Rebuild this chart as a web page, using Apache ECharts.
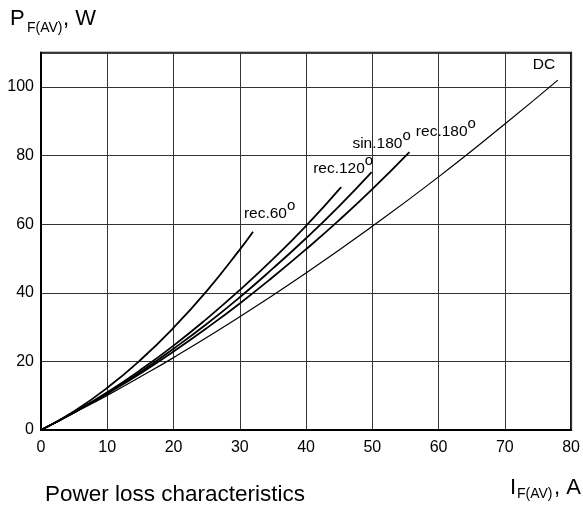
<!DOCTYPE html>
<html>
<head>
<meta charset="utf-8">
<script src="https://cdn.jsdelivr.net/npm/echarts@6/dist/echarts.min.js"></script>
<style>
html, body { margin: 0; padding: 0; background: #fff; }
#chart { width: 583px; height: 509px; }
</style>
</head>
<body>
<div id="chart"></div>
<script>
// I_F(AV), A  vs  P_F(AV), W
var rec60 = [[0, 0], [5, 5.5], [10, 12.3], [15, 20.4], [20, 29.8], [25, 40.5], [30, 52.6], [32, 57.8]];
var rec120 = [[0, 0], [5, 5.2], [10, 11.0], [15, 17.5], [20, 24.6], [25, 32.4], [30, 40.8], [35, 49.8], [40, 59.5], [45.3, 70.8]];
var sin180 = [[0, 0], [5, 5.1], [10, 10.8], [15, 16.9], [20, 23.7], [25, 30.9], [30, 38.7], [35, 47.1], [40, 55.9], [45, 65.3], [49.9, 75.2]];
var rec180 = [[0, 0], [5, 5.1], [10, 10.6], [15, 16.5], [20, 22.9], [25, 29.7], [30, 36.9], [35, 44.6], [40, 52.7], [45, 61.2], [50, 70.2], [55.6, 81.0]];
var dc = [[0, 0], [5, 5.0], [10, 10.1], [15, 15.5], [20, 21.1], [30, 33.0], [40, 45.8], [50, 59.4], [60, 73.8], [70, 89.2], [78, 102.0]];

var curveNames = ['rec.60', 'rec.120', 'sin.180', 'rec.180', 'DC'];
var curveData = [rec60, rec120, sin180, rec180, dc];
// where each curve's label sits (data coords)
var labelPos = [[34.5, 63.2], [45.6, 76.2], [51.4, 83.6], [61.1, 87.1], [75.9, 106.4]];

var chart = echarts.init(document.getElementById('chart'));

var series = curveNames.map(function (name, i) {
    var isDC = name === 'DC';
    return {
        name: name,
        type: 'line',
        data: curveData[i],
        smooth: true,
        showSymbol: false,
        silent: true,
        lineStyle: { color: '#000', width: isDC ? 1.2 : 1.8 },
        markPoint: {
            silent: true,
            symbol: 'circle',
            symbolSize: 0,
            data: [{ coord: labelPos[i] }],
            label: {
                show: true,
                position: 'inside',
                formatter: isDC ? '{t|DC}' : '{t|' + name + '}{s|o}',
                rich: {
                    t: { fontSize: 15.5, color: '#000', fontFamily: 'Liberation Sans, Arial', lineHeight: 30 },
                    s: { fontSize: 15, color: '#000', fontFamily: 'Liberation Sans, Arial', lineHeight: 15, verticalAlign: 'top' }
                }
            }
        }
    };
});

var option = {
    animation: false,
    backgroundColor: '#fff',
    grid: {
        left: 41,
        right: 11,
        top: 52.7,
        bottom: 79,
        show: true,
        borderColor: '#000',
        borderWidth: 2
    },
    xAxis: {
        type: 'value',
        min: 0,
        max: 80,
        interval: 10,
        axisLine: { show: true, lineStyle: { color: '#000', width: 2 } },
        axisTick: { show: false },
        axisLabel: { color: '#000', fontSize: 16, margin: 10, fontFamily: 'Liberation Sans, Arial' },
        splitLine: { show: true, lineStyle: { color: '#333', width: 1 } }
    },
    yAxis: {
        type: 'value',
        min: 0,
        max: 110,
        interval: 20,
        axisLine: { show: true, lineStyle: { color: '#000', width: 2 } },
        axisTick: { show: false },
        axisLabel: { color: '#000', fontSize: 16, margin: 7, showMaxLabel: false, fontFamily: 'Liberation Sans, Arial' },
        splitLine: { show: true, lineStyle: { color: '#333', width: 1 } }
    },
    graphic: [
        { type: 'text', left: 10, top: 8, style: { text: 'P', fontSize: 22, fill: '#000', fontFamily: 'Liberation Sans, Arial' } },
        { type: 'text', left: 27, top: 21, style: { text: 'F(AV)', fontSize: 14, fill: '#000', fontFamily: 'Liberation Sans, Arial' } },
        { type: 'text', left: 63, top: 8, style: { text: ', W', fontSize: 22, fill: '#000', fontFamily: 'Liberation Sans, Arial' } },
        { type: 'text', left: 510, top: 477, style: { text: 'I', fontSize: 22, fill: '#000', fontFamily: 'Liberation Sans, Arial' } },
        { type: 'text', left: 517, top: 487, style: { text: 'F(AV)', fontSize: 14, fill: '#000', fontFamily: 'Liberation Sans, Arial' } },
        { type: 'text', left: 554, top: 477, style: { text: ', A', fontSize: 22, fill: '#000', fontFamily: 'Liberation Sans, Arial' } },
        { type: 'text', left: 45, top: 483, style: { text: 'Power loss characteristics', fontSize: 22.5, fill: '#000', fontFamily: 'Liberation Sans, Arial' } }
    ],
    series: series
};

chart.setOption(option);
</script>
</body>
</html>
